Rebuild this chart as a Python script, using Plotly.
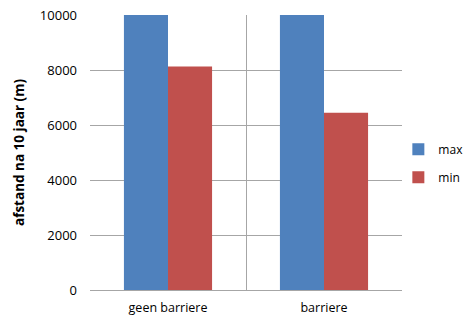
import plotly.graph_objects as go

categories = ["geen barriere", "barriere"]
max_values = [10000, 10000]
min_values = [8130, 6450]
y_ticks = [0, 2000, 4000, 6000, 8000, 10000]
y_tick_labels = ["0", "2000", "4000", "6000", "8000", "10000"]

font_family = "Open Sans, Noto Sans, sans-serif"

fig = go.Figure()
fig.add_trace(go.Bar(name="max", x=categories, y=max_values, legendgroup="max",
                     marker=dict(color="#4F81BD", line=dict(width=0))))
fig.add_trace(go.Bar(name="min", x=categories, y=min_values, legendgroup="min",
                     marker=dict(color="#C0504D", line=dict(width=0))))

fig.update_layout(
    width=467, height=320,
    margin=dict(l=90, r=65, t=15, b=30, autoexpand=False),
    paper_bgcolor="white", plot_bgcolor="white",
    barmode="group", bargap=0.435, bargroupgap=0,
    font=dict(family=font_family, size=12, color="#000000"),
    legend=dict(xref="container", yref="container", x=0.853, y=0.49,
                xanchor="left", yanchor="middle", traceorder="grouped",
                font=dict(size=12), itemwidth=30, tracegroupgap=9,
                bgcolor="rgba(0,0,0,0)"),
    xaxis=dict(
        type="category", tickson="boundaries", showgrid=True,
        gridcolor="#A6A6A6", gridwidth=1, ticks="", showline=True,
        linecolor="#A6A6A6", linewidth=1, tickfont=dict(size=12.5),
        ticklabelstandoff=6, range=[-0.5, 1.5],
    ),
    yaxis=dict(
        range=[0, 10000], tickvals=y_ticks, ticktext=y_tick_labels,
        showgrid=True, gridcolor="#A6A6A6", gridwidth=1, zeroline=False,
        ticks="", showline=False, tickfont=dict(size=13),
        ticklabelstandoff=12,
        title=dict(text="<b>afstand na 10 jaar (m)</b>", font=dict(size=13.5),
                   standoff=12),
    ),
)

fig.write_html("out.html")
